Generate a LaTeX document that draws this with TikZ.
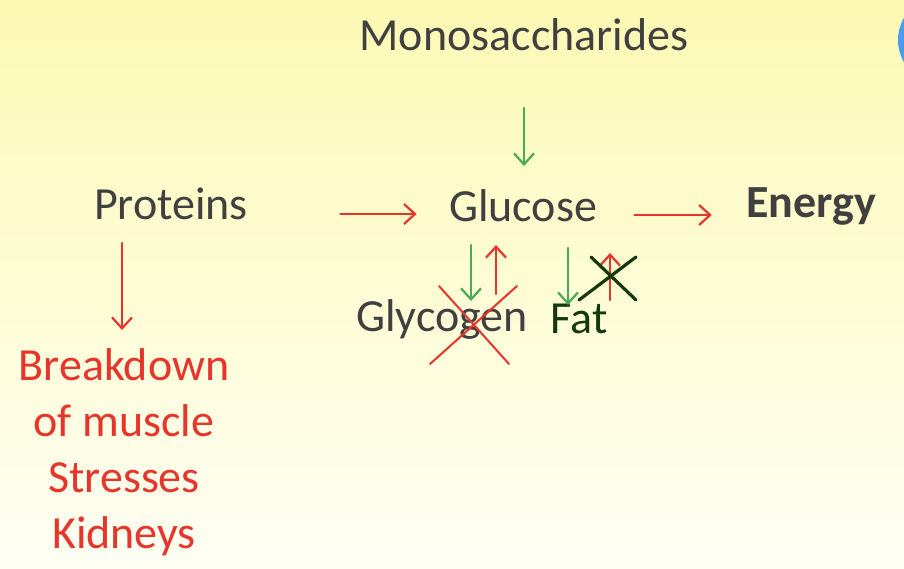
\documentclass[tikz,border=0pt]{standalone}
\usepackage{fontspec}
\setmainfont{Carlito}
\usetikzlibrary{arrows.meta}
\definecolor{txt}{HTML}{404040}
\definecolor{red}{HTML}{E8352B}
\definecolor{green}{HTML}{4CAA55}
\definecolor{darkgreen}{HTML}{143A0C}
\definecolor{bgtop}{HTML}{FCF9B4}
\definecolor{bgbot}{HTML}{FFFFF4}
\definecolor{ball}{HTML}{4A9CF2}
\tikzset{
  every picture/.style={
    line join=round,
    line cap=round,
    >={Straight Barb[length=5.5pt,width=10pt]},
  },
  word/.style={font=\fontsize{23}{28}\selectfont, text=txt, inner sep=0pt},
  redarrow/.style={->, red, line width=1.1pt},
  greenarrow/.style={->, green, line width=1.1pt},
}

\begin{document}
\begin{tikzpicture}[x=0.5pt, y=-0.5pt]
    % Background
    \shade[top color=bgtop, bottom color=bgbot] (0,0) rectangle (904,568);
    \useasboundingbox (0,0) rectangle (904,568);
    \begin{scope}
      \clip (0,0) rectangle (904,568);
      \fill[ball] (942,40) circle (44);
    \end{scope}

    % Words
    \node[word] (mono) at (524,35) {Monosaccharides};
    \node[word] (gluc) at (523,206) {Glucose};
    \node[word] (prot) at (171,204) {Proteins};
    \node[word, font=\fontsize{23}{28}\selectfont\bfseries] (ener) at (811,206) {Energy};
    \node[word] (glyc) at (442,319) {Glycogen};
    \node[word, text=darkgreen] (fat) at (579,319) {Fat};
    \node[word, text=red, align=center] (brk) at (124,452)
      {Breakdown\\of muscle\\Stresses\\Kidneys};

    % Main arrows
    \coordinate (m1) at (524,108);
    \draw[greenarrow] (m1) -- (m1 |- 0,166) coordinate (m2);
    \draw[redarrow, shorten <=46pt, shorten >=16pt] (prot.east |- 0,214) -- (gluc.west |- 0,214);
    \draw[redarrow, shorten <=18.5pt, shorten >=17pt] (gluc.east |- 0,215) -- (ener.west |- 0,215);
    \draw[redarrow] (122,243) coordinate (p1) -- (122,330) coordinate (p2);

    % Glycogen and fat
    \coordinate (g1) at (471,245); \coordinate (g2) at (471,301);
    \coordinate (g3) at (496,294); \coordinate (g4) at (496,245);
    \coordinate (f1) at (568,248); \coordinate (f2) at (568,305);
    \coordinate (f3) at (610,300); \coordinate (f4) at (610,253);
    \draw[greenarrow] (g1) -- (g2);
    \draw[redarrow] (g3) -- (g4);
    \draw[greenarrow] (f1) -- (f2);
    \draw[redarrow] (f3) -- (f4);

    % Crossed out
    \draw[red, line width=1pt] (439,286) -- (509,364) (517,286) -- (430,364);
    \draw[darkgreen, line width=1.6pt] (591,257) -- (636,300) (636,257) -- (579,300);
\end{tikzpicture}
\end{document}
